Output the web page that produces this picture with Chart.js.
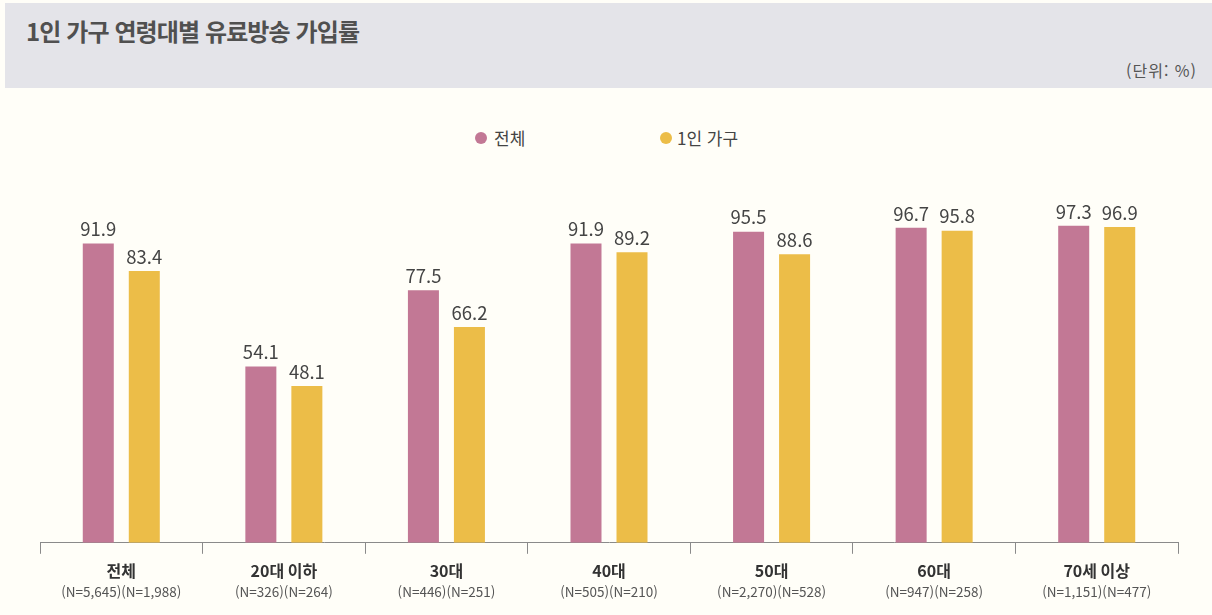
<!DOCTYPE html>
<html lang="ko">
<head>
<meta charset="utf-8">
<script src="https://cdn.jsdelivr.net/npm/chart.js@4/dist/chart.umd.min.js"></script>
<style>
  html, body { margin: 0; padding: 0; }
  body {
    width: 1212px; height: 615px; position: relative; overflow: hidden;
    background: #fffef8;
    font-family: "Noto Sans CJK KR", "Noto Sans", sans-serif;
  }
  #header {
    position: absolute; left: 5px; top: 3px; width: 1207px; height: 85px;
    background: #e4e4e9;
  }
  #title {
    position: absolute; left: 21px; top: 16px;
    font-size: 24px; line-height: 24px; font-weight: 700; color: #505050;
    letter-spacing: -0.9px;
  }
  #unit {
    position: absolute; right: 15px; top: 59px;
    font-size: 16px; line-height: 16px; color: #555; letter-spacing: 1px;
  }
  #legend span { position: absolute; font-size: 17px; line-height: 17px; color: #444; }
  #legend i { position: absolute; width: 12px; height: 12px; border-radius: 50%; }
  canvas { position: absolute; left: 0; top: 0; }
</style>
</head>
<body>
<div id="header">
  <div id="title">1인 가구 연령대별 유료방송 가입률</div>
  <div id="unit">(단위: %)</div>
</div>
<div id="legend"></div>
<canvas id="chart" width="1212" height="615"></canvas>
<script>
const categories = ["전체", "20대 이하", "30대", "40대", "50대", "60대", "70세 이상"];
const sampleSizes = [
  "(N=5,645)(N=1,988)", "(N=326)(N=264)", "(N=446)(N=251)", "(N=505)(N=210)",
  "(N=2,270)(N=528)", "(N=947)(N=258)", "(N=1,151)(N=477)"
];
const seriesNames = ["전체", "1인 가구"];
const totalValues = [91.9, 54.1, 77.5, 91.9, 95.5, 96.7, 97.3];
const singleValues = [83.4, 48.1, 66.2, 89.2, 88.6, 95.8, 96.9];
const seriesColors = ["#c27895", "#ecbd48"];

// legend in html, built from the series names/colors
const legendPos = [{ dot: 475, text: 494 }, { dot: 660, text: 677 }];
const legendEl = document.getElementById("legend");
seriesNames.forEach((name, i) => {
  const dot = document.createElement("i");
  dot.style.left = legendPos[i].dot + "px";
  dot.style.top = "132px";
  dot.style.background = seriesColors[i];
  legendEl.appendChild(dot);
  const label = document.createElement("span");
  label.textContent = name;
  label.style.left = legendPos[i].text + "px";
  label.style.top = "129px";
  legendEl.appendChild(label);
});

const valueLabels = {
  id: "valueLabels",
  afterDatasetsDraw(chart) {
    const ctx = chart.ctx;
    ctx.save();
    ctx.font = '18.5px "Noto Sans CJK KR", sans-serif';
    ctx.fillStyle = "#444";
    ctx.textAlign = "center";
    ctx.textBaseline = "bottom";
    chart.data.datasets.forEach((ds, i) => {
      chart.getDatasetMeta(i).data.forEach((bar, j) => {
        ctx.fillText(ds.data[j].toFixed(1), bar.x, bar.y - 5);
      });
    });
    ctx.restore();
  }
};

new Chart(document.getElementById("chart"), {
  type: "bar",
  data: {
    labels: categories,
    datasets: [
      { label: seriesNames[0], data: totalValues, backgroundColor: seriesColors[0] },
      { label: seriesNames[1], data: singleValues, backgroundColor: seriesColors[1] }
    ]
  },
  options: {
    responsive: false,
    animation: false,
    categoryPercentage: 0.566,
    barPercentage: 0.674,
    layout: { padding: { top: 217, left: 40, right: 34, bottom: 15 } },
    plugins: { legend: { display: false }, tooltip: { enabled: false } },
    scales: {
      y: { display: false, min: 0, max: 100 },
      x: {
        offset: true,
        grid: { offset: true, drawOnChartArea: false, tickLength: 11, color: "#8a8a8a" },
        border: { color: "#8a8a8a" },
        ticks: {
          color: "#333", padding: 8,
          font: { family: '"Noto Sans CJK KR", sans-serif', size: 16, weight: "bold" }
        },
        afterFit(scale) { scale.height = 41; }
      },
      x2: {
        type: "category",
        position: "bottom",
        weight: 1,
        labels: sampleSizes,
        offset: true,
        grid: { display: false, drawTicks: false },
        border: { display: false },
        ticks: {
          color: "#555", padding: 0,
          font: { family: '"Noto Sans CJK KR", sans-serif', size: 13.5 }
        }
      }
    }
  },
  plugins: [valueLabels]
});
</script>
</body>
</html>
